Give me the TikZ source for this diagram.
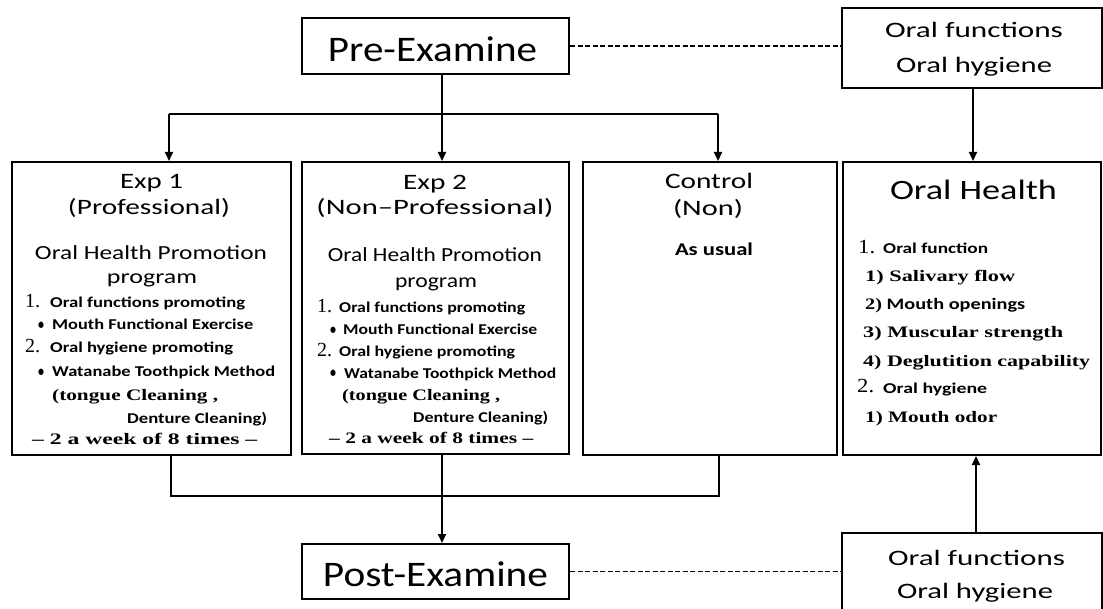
\documentclass[tikz,border=0pt]{standalone}
\usepackage{fontspec}
\usepackage{graphicx}
\usetikzlibrary{arrows.meta,calc}
\setmainfont{Carlito}
\newfontfamily\srf{Liberation Serif}
\newcommand\T[3]{{\fontsize{#1}{#1}\selectfont\resizebox{#2pt}{\height}{#3}}}
\tikzset{
  box/.style={draw, line width=2pt, inner sep=0pt},
  conn/.style={line width=2pt},
  arr/.style={line width=2pt, -{Triangle[length=9pt,width=8pt]}},
  dsh/.style={line width=1.8pt, dash pattern=on 5pt off 2.5pt},
  lt/.style={anchor=base west, inner sep=0pt},
  ct/.style={anchor=base, inner sep=0pt},
}
\begin{document}
\begin{tikzpicture}[x=1pt,y=-1pt]
\useasboundingbox (0,0) rectangle (1103,609);
% boxes
\node[box, minimum width=267pt, minimum height=56pt] (pre) at (435.5,46) {};
\node[box, minimum width=260pt, minimum height=80pt] (oft) at (972,48) {};
\node[box, minimum width=279pt, minimum height=293pt] (exp1) at (151.5,308.5) {};
\node[box, minimum width=267pt, minimum height=292pt] (exp2) at (435.5,308) {};
\node[box, minimum width=254pt, minimum height=293pt] (ctrl) at (710,308.5) {};
\node[box, minimum width=258pt, minimum height=293pt] (oh) at (972,308.5) {};
\node[box, minimum width=267pt, minimum height=55pt] (post) at (435.5,571.5) {};
\node[box, minimum width=260pt, minimum height=80pt] (ofb) at (972,573) {};
% box texts
\node[ct] (preT) at (432.5,62) {\T{36}{209}{Pre-Examine}};
\node[ct] (postT) at (435.5,586) {\T{36}{225}{Post-Examine}};
\node[ct] (oftA) at (974,38) {\T{22}{178}{Oral functions}};
\node[ct] (oftB) at (974,73) {\T{22}{156}{Oral hygiene}};
\node[ct] (ofbA) at (976.5,565) {\T{22}{177}{Oral functions}};
\node[ct] (ofbB) at (975,598) {\T{22}{156}{Oral hygiene}};
% Exp 1
\node[ct] (e1h1) at (151.5,189) {\T{22}{63}{Exp 1}};
\node[ct] (e1h2) at (149,215) {\T{22}{162}{(Professional)}};
\node[ct] (e1h3) at (151,260) {\T{20}{232}{Oral Health Promotion}};
\node[ct] (e1h4) at (152,284) {\T{20}{90}{program}};
\node[lt] (e1n1) at (25,308) {\T{20}{15}{\srf 1.}};
\node[lt] (e1i1) at (50,308) {\T{15}{195}{\bfseries Oral functions promoting}};
\node[lt] (e1b1) at (38,330) {\T{15}{6}{\bfseries •}};
\node[lt] (e1i2) at (52,330) {\T{15}{201}{\bfseries Mouth Functional Exercise}};
\node[lt] (e1n2) at (25,353) {\T{20}{15}{\srf 2.}};
\node[lt] (e1i3) at (50,353) {\T{15}{183}{\bfseries Oral hygiene promoting}};
\node[lt] (e1b2) at (38,377) {\T{15}{6}{\bfseries •}};
\node[lt] (e1i4) at (52,377) {\T{15}{223}{\bfseries Watanabe Toothpick Method}};
\node[lt] (e1i5) at (52,400) {\T{16}{166}{\srf\bfseries (tongue Cleaning ,}};
\node[lt] (e1i6) at (127,424) {\T{15}{140}{\bfseries Denture Cleaning)}};
\node[lt] (e1i7) at (32,444) {\T{16}{225}{\srf\bfseries – 2 a week of 8 times –}};
% Exp 2
\node[ct] (e2h1) at (435,190) {\T{22}{64}{Exp 2}};
\node[ct] (e2h2) at (435,215) {\T{22}{237}{(Non–Professional)}};
\node[ct] (e2h3) at (435,262) {\T{20}{214}{Oral Health Promotion}};
\node[ct] (e2h4) at (436,288) {\T{20}{82}{program}};
\node[lt] (e2n1) at (317,313) {\T{20}{15}{\srf 1.}};
\node[lt] (e2i1) at (339,313) {\T{15}{186}{\bfseries Oral functions promoting}};
\node[lt] (e2b1) at (330,335) {\T{15}{6}{\bfseries •}};
\node[lt] (e2i2) at (343,335) {\T{15}{194}{\bfseries Mouth Functional Exercise}};
\node[lt] (e2n2) at (317,357) {\T{20}{15}{\srf 2.}};
\node[lt] (e2i3) at (339,357) {\T{15}{176}{\bfseries Oral hygiene promoting}};
\node[lt] (e2b2) at (330,378) {\T{15}{6}{\bfseries •}};
\node[lt] (e2i4) at (344,378) {\T{15}{212}{\bfseries Watanabe Toothpick Method}};
\node[lt] (e2i5) at (342,400) {\T{16}{158}{\srf\bfseries (tongue Cleaning ,}};
\node[lt] (e2i6) at (413,422) {\T{15}{135}{\bfseries Denture Cleaning)}};
\node[lt] (e2i7) at (329,443) {\T{16}{204}{\srf\bfseries – 2 a week of 8 times –}};
% Control
\node[ct] (c1) at (709,189) {\T{22}{88}{Control}};
\node[ct] (c2) at (708,216) {\T{22}{70}{(Non)}};
\node[ct] (c3) at (714,256) {\T{18}{78}{\bfseries As usual}};
% Oral Health
\node[ct] (ohT) at (973.5,200) {\T{28}{167}{Oral Health}};
\node[lt] (ohn1) at (858,254) {\T{20}{17}{\srf 1.}};
\node[lt] (oh1) at (883,254) {\T{15}{105}{\bfseries Oral function}};
\node[lt] (oh2) at (865,282) {\T{16}{150}{\srf\bfseries 1) Salivary flow}};
\node[lt] (oh3) at (865,310) {\T{16}{160}{{\srf\bfseries 2)} \bfseries Mouth openings}};
\node[lt] (oh4) at (863,338) {\T{16}{200}{\srf\bfseries 3) Muscular strength}};
\node[lt] (oh5) at (863,367) {\T{16}{227}{\srf\bfseries 4) Deglutition capability}};
\node[lt] (ohn2) at (857,393) {\T{20}{17}{\srf 2.}};
\node[lt] (oh6) at (883,393) {\T{15}{104}{\bfseries Oral hygiene}};
\node[lt] (oh7) at (865,422) {\T{16}{132}{\srf\bfseries 1) Mouth odor}};
% connectors
\coordinate (jt) at (442,114);
\coordinate (jl) at (169,114);
\coordinate (jr) at (718,114);
\draw[conn] (pre.south -| jt) -- (jt);
\draw[conn] (jl) -- (jr);
\draw[arr] (jl) -- (jl |- exp1.north);
\draw[arr] (jt) -- (jt |- exp2.north);
\draw[arr] (jr) -- (jr |- ctrl.north);
\coordinate (bl) at (171,496);
\coordinate (br) at (719,496);
\coordinate (bm) at (442,496);
\draw[conn] (bl |- exp1.south) -- (bl) -- (br) -- (br |- ctrl.south);
\draw[conn] (bm |- exp2.south) -- (bm);
\draw[arr] (bm) -- (bm |- post.north);
\coordinate (ot) at (973,120);
\draw[arr] (oft.south -| ot) -- (oh.north -| ot);
\coordinate (ob) at (976,500);
\draw[arr] (ofb.north -| ob) -- (oh.south -| ob);
\draw[dsh] (pre.east) -- (pre.east -| oft.west);
\draw[dsh] (post.east) -- (post.east -| ofb.west);
\end{tikzpicture}
\end{document}
